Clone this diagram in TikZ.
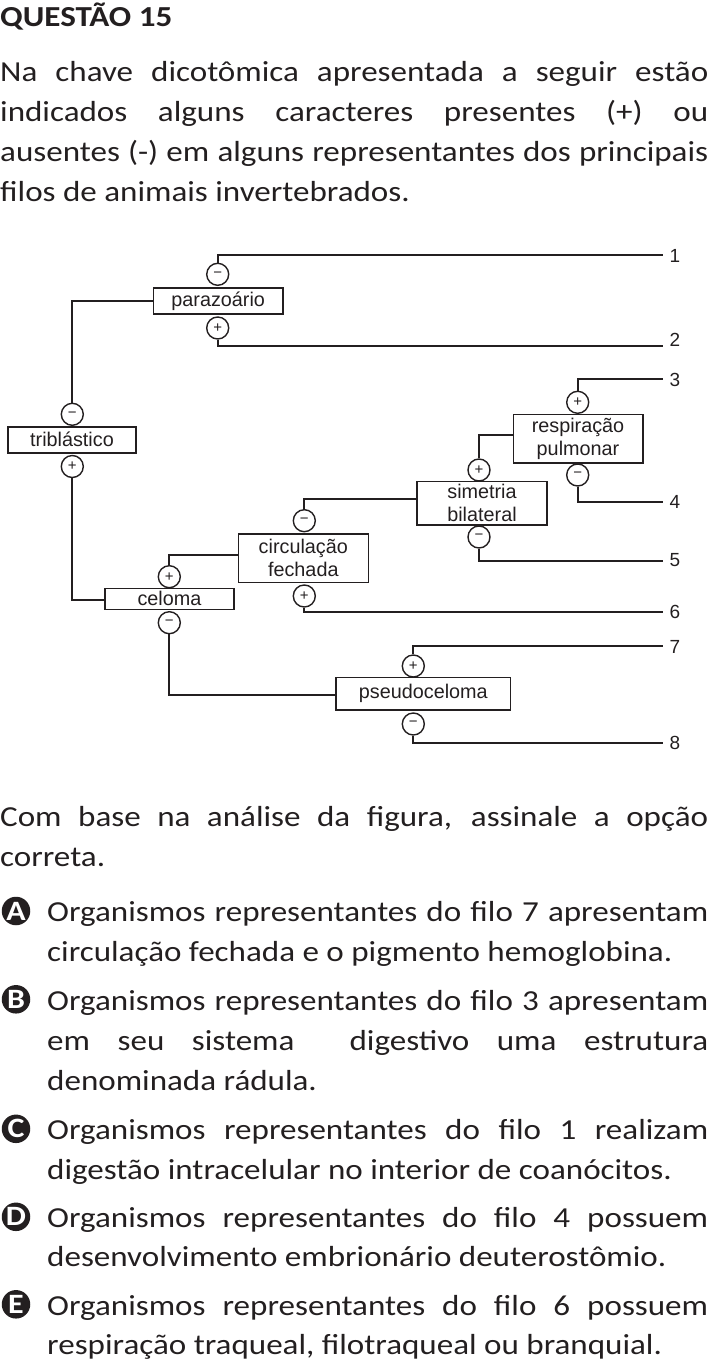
\documentclass[tikz,border=0pt]{standalone}
\usepackage{fontspec}
\setmainfont{Carlito}[FakeStretch=1.14]
\newfontfamily\diag{Liberation Sans}
\definecolor{ink}{HTML}{231F20}
\begin{document}
\begin{tikzpicture}[x=1pt,y=-1pt,
  box/.style={draw=ink, line width=1.6pt, inner sep=0pt, align=center, text=ink,
    font=\diag\fontsize{19.8}{23}\selectfont},
  sign/.style={circle, draw=ink, line width=1.4pt, minimum size=22pt, inner sep=0pt,
    text=ink, font=\diag\fontsize{15}{15}\selectfont},
  conn/.style={draw=ink, line width=1.8pt},
  num/.style={font=\diag\fontsize{19}{19}\selectfont, text=ink, inner sep=0pt},
  txt/.style={anchor=base west, inner sep=0pt, text=ink, font=\fontsize{29}{40}\selectfont},
  opt/.style={circle, fill=ink, text=white, minimum size=28.5pt, inner sep=0pt,
    font=\bfseries\fontsize{28}{28}\selectfont}]
\useasboundingbox (0,0) rectangle (708,1362);

% ---------- header text ----------
\node[txt, font=\bfseries\fontsize{29}{30}\selectfont] (h) at (0,26.7) {QUESTÃO 15};
\node[txt] (p1) at (0,81.7) {\makebox[708pt][s]{Na chave dicotômica apresentada a seguir estão}};
\node[txt] (p2) at (0,121.7) {\makebox[708pt][s]{indicados alguns caracteres presentes (+) ou}};
\node[txt] (p3) at (0,161.7) {\makebox[708pt][s]{ausentes (-) em alguns representantes dos principais}};
\node[txt] (p4) at (0,201.7) {filos de animais invertebrados.};

% ---------- diagram boxes ----------
\node[box, minimum width=129.7pt, minimum height=26pt] (para) at (218.2,301) {parazoário};
\node[box, minimum width=128pt, minimum height=26pt] (trib) at (72,439.7) {triblástico};
\node[box, minimum width=129pt, minimum height=21pt] (cel) at (169.5,598.8) {celoma};
\node[box, minimum width=130pt, minimum height=48.3pt] (circ) at (303.3,558.2) {circulação\\fechada};
\node[box, minimum width=130pt, minimum height=43.3pt] (sim) at (482,503.3) {simetria\\bilateral};
\node[box, minimum width=129.4pt, minimum height=48.4pt] (resp) at (578,438.5) {respiração\\pulmonar};
\node[box, minimum width=174.7pt, minimum height=32.3pt] (pseudo) at (423.3,693.8) {pseudoceloma};

% ---------- signs ----------
\node[sign] (pm) at (217.7,274.3) {−};
\node[sign] (pp) at (217.7,328) {+};
\node[sign] (tm) at (72.3,414.3) {−};
\node[sign] (tp) at (72.3,466.5) {+};
\node[sign] (cp) at (169.3,576.7) {+};
\node[sign] (cm) at (169.3,622.7) {−};
\node[sign] (fm) at (304.3,520.7) {−};
\node[sign] (fp) at (304.3,596) {+};
\node[sign] (sp) at (479,470) {+};
\node[sign] (sm) at (479,537) {−};
\node[sign] (rp) at (577.7,402.3) {+};
\node[sign] (rm) at (577.7,475) {−};
\node[sign] (psp) at (413.3,666) {+};
\node[sign] (psm) at (413.3,724) {−};

% ---------- line ends and numbers ----------
\coordinate (e1) at (663,255);
\coordinate (e2) at (663,346);
\coordinate (e3) at (663,379.3);
\coordinate (e4) at (663,501.7);
\coordinate (e5) at (663,560.7);
\coordinate (e6) at (663,611.7);
\coordinate (e7) at (663,646.3);
\coordinate (e8) at (663,742.7);
\node[num] (n1) at (675,256) {1};
\node[num] (n2) at (675,340) {2};
\node[num] (n3) at (675,379.5) {3};
\node[num] (n4) at (675,501.5) {4};
\node[num] (n5) at (675,560.5) {5};
\node[num] (n6) at (675,611.5) {6};
\node[num] (n7) at (675,646.5) {7};
\node[num] (n8) at (675,742.5) {8};

% ---------- connectors ----------
\draw[conn] (tm.north) |- (para.west);
\draw[conn] (pm.north) |- (e1);
\draw[conn] (pp.south) |- (e2);
\draw[conn] (tp.south) |- ([yshift=-1.5pt]cel.west);
\draw[conn] (cp.north) |- ([yshift=3pt]circ.west);
\draw[conn] (cm.south) |- ([yshift=-1pt]pseudo.west);
\draw[conn] (fm.north) |- ([yshift=4pt]sim.west);
\draw[conn] (fp.south) |- (e6);
\draw[conn] (sp.north) |- ([yshift=3.5pt]resp.west);
\draw[conn] (sm.south) |- (e5);
\draw[conn] (rp.north) |- (e3);
\draw[conn] (rm.south) |- (e4);
\draw[conn] (psp.north) |- (e7);
\draw[conn] (psm.south) |- (e8);

% ---------- question text ----------
\node[txt] (q1) at (0,826.7) {\makebox[708pt][s]{Com base na análise da figura, assinale a opção}};
\node[txt] (q2) at (0,866.7) {correta.};

\node[opt] (oA) at (16,911) {A};
\node[txt] (a1) at (47,921.7) {\makebox[661pt][s]{Organismos representantes do filo 7 apresentam}};
\node[txt] (a2) at (47,961.7) {circulação fechada e o pigmento hemoglobina.};

\node[opt] (oB) at (16,999.3) {B};
\node[txt] (b1) at (47,1010) {\makebox[661pt][s]{Organismos representantes do filo 3 apresentam}};
\node[txt] (b2) at (47,1050) {\makebox[661pt][s]{em seu sistema \ digestivo uma estrutura}};
\node[txt] (b3) at (47,1090) {denominada rádula.};

\node[opt] (oC) at (16,1128.8) {C};
\node[txt] (c1) at (47,1139.5) {\makebox[661pt][s]{Organismos representantes do filo 1 realizam}};
\node[txt] (c2) at (47,1179) {digestão intracelular no interior de coanócitos.};

\node[opt] (oD) at (16,1216.8) {D};
\node[txt] (d1) at (47,1227.5) {\makebox[661pt][s]{Organismos representantes do filo 4 possuem}};
\node[txt] (d2) at (47,1266.5) {desenvolvimento embrionário deuterostômio.};

\node[opt] (oE) at (16,1304.3) {E};
\node[txt] (e1t) at (47,1315) {\makebox[661pt][s]{Organismos representantes do filo 6 possuem}};
\node[txt] (e2t) at (47,1354) {respiração traqueal, filotraqueal ou branquial.};
\end{tikzpicture}
\end{document}
